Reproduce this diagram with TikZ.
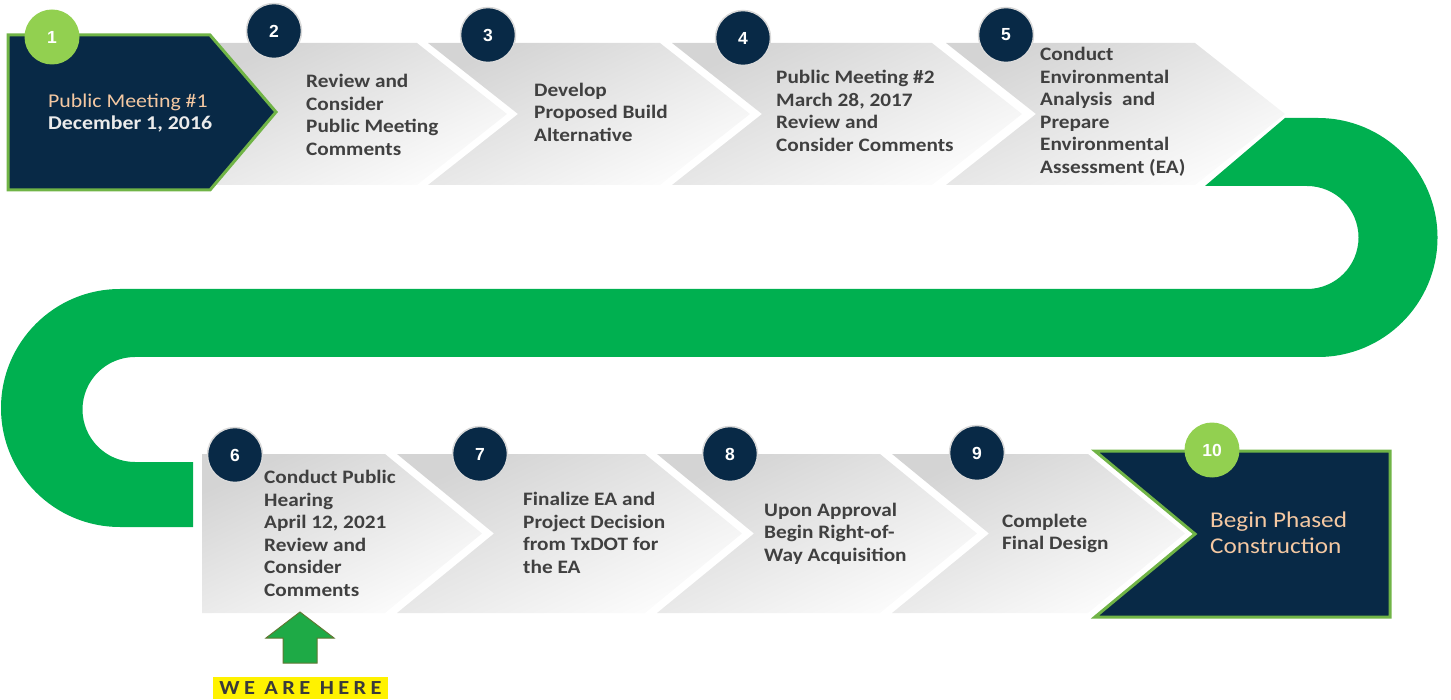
\documentclass[tikz,border=0pt]{standalone}
\usepackage{fontspec}
\newfontfamily\calfont{Carlito}[FakeStretch=1.12]
\newfontfamily\arialfont{Liberation Sans}
\definecolor{navy}{RGB}{8,41,70}
\definecolor{bandgreen}{RGB}{0,176,80}
\definecolor{lgreen}{RGB}{146,208,80}
\definecolor{edgegreen}{RGB}{112,180,70}
\definecolor{txtgray}{RGB}{64,64,64}
\definecolor{peach}{RGB}{244,200,162}
\definecolor{arrowgreen}{RGB}{30,170,70}
\definecolor{arrowedge}{RGB}{95,120,50}
\begin{document}
\begin{tikzpicture}[x=1pt,y=-1pt,
  chev/.style={top color=black!17, bottom color=black!1, shading angle=25},
  darkbox/.style={fill=navy, draw=edgegreen, line width=3pt},
  steptext/.style={anchor=west, align=left, inner sep=0pt, text=txtgray,
    font=\calfont\bfseries\fontsize{19}{22.5}\selectfont},
  darktext/.style={anchor=west, align=left, inner sep=0pt},
  numc/.style={circle, fill=navy, draw=black!15, line width=1.5pt, minimum size=55pt,
    inner sep=0pt, text=white, font=\arialfont\bfseries\fontsize{17.5}{17.5}\selectfont},
  greenc/.style={numc, fill=lgreen, draw=none}]
\useasboundingbox (0,0) rectangle (1451,700);

% top row chevrons
\shade[chev] (200,43)--(417,43)--(507,114)--(417,185)--(200,185)--cycle;
\shade[chev] (428,43)--(660,43)--(750,114)--(660,185)--(428,185)--(518,114)--cycle;
\shade[chev] (672,43)--(932,43)--(1022,114)--(932,185)--(672,185)--(762,114)--cycle;
\shade[chev] (946,43)--(1195,43)--(1285,114)--(1195,185)--(946,185)--(1036,114)--cycle;

% green band
\fill[bandgreen] (1285,118) -- (1318,118) arc[start angle=-90, end angle=90, radius=119.5]
  -- (135,357) arc[start angle=-90, end angle=-270, radius=52.5]
  -- (193,462) -- (193,527) -- (120,527) arc[start angle=90, end angle=270, radius=119]
  -- (1307,289) arc[start angle=90, end angle=-90, radius=51.5]
  -- (1205,186) -- cycle;

% bottom row chevrons
\shade[chev] (202,454)--(385,454)--(482,533.5)--(385,613)--(202,613)--cycle;
\shade[chev] (397,454)--(645,454)--(742,533.5)--(645,613)--(397,613)--(494,533.5)--cycle;
\shade[chev] (657,454)--(880,454)--(977,533.5)--(880,613)--(657,613)--(754,533.5)--cycle;
\shade[chev] (892,454)--(1088,454)--(1185,533.5)--(1088,613)--(892,613)--(989,533.5)--cycle;

% first and last steps
\path[darkbox] (8,35)--(210,35)--(276,112)--(210,190)--(8,190)--cycle;
\path[darkbox] (1095,451)--(1390,451)--(1390,617)--(1095,617)--(1195,534)--cycle;

% texts
\node[darktext, font=\calfont\fontsize{19.5}{22}\selectfont] (t1) at (48,113)
  {\textcolor{peach}{Public Meeting \#1}\\\textcolor{black!8}{\bfseries December 1, 2016}};
\node[steptext] (t2) at (306,115) {Review and\\Consider\\Public Meeting\\Comments};
\node[steptext] (t3) at (534,112) {Develop\\Proposed Build\\Alternative};
\node[steptext] (t4) at (776,111) {Public Meeting \#2\\March 28, 2017\\Review and\\Consider Comments};
\node[steptext] (t5) at (1040,112) {Conduct\\Environmental\\Analysis\ \ and\\Prepare\\Environmental\\Assessment (EA)};
\node[steptext] (t6) at (264,533.5) {Conduct Public\\Hearing\\April 12, 2021\\Review and\\Consider\\Comments};
\node[steptext] (t7) at (523,533) {Finalize EA and\\Project Decision\\from TxDOT for\\the EA};
\node[steptext] (t8) at (764,533.5) {Upon Approval\\Begin Right-of-\\Way Acquisition};
\node[steptext] (t9) at (1002,533.5) {Complete\\Final Design};
\node[darktext, text=peach, font=\calfont\fontsize{22.5}{26}\selectfont] (t10) at (1210,533)
  {Begin Phased\\Construction};

% number circles
\node[greenc] (n1) at (52,37) {1};
\node[numc] (n2) at (274,31) {2};
\node[numc] (n3) at (488,35) {3};
\node[numc] (n4) at (743,38) {4};
\node[numc] (n5) at (1006,35) {5};
\node[numc] (n6) at (235,455) {6};
\node[numc] (n7) at (480,454) {7};
\node[numc] (n8) at (730,454) {8};
\node[numc] (n9) at (977,453) {9};
\node[greenc] (n10) at (1212,450) {10};

% we are here
\fill[arrowgreen, draw=arrowedge, line width=1pt] (300,612)--(334,638)--(317,638)--(317,663)
  --(283,663)--(283,638)--(266,638)--cycle;
\node[fill=yellow, inner sep=0pt, minimum width=175pt, minimum height=22pt, text=txtgray!90!black,
  font=\calfont\bfseries\fontsize{20}{20}\selectfont\addfontfeature{LetterSpace=22}] (here) at (300.5,688)
  {WE ARE HERE};
\end{tikzpicture}
\end{document}
